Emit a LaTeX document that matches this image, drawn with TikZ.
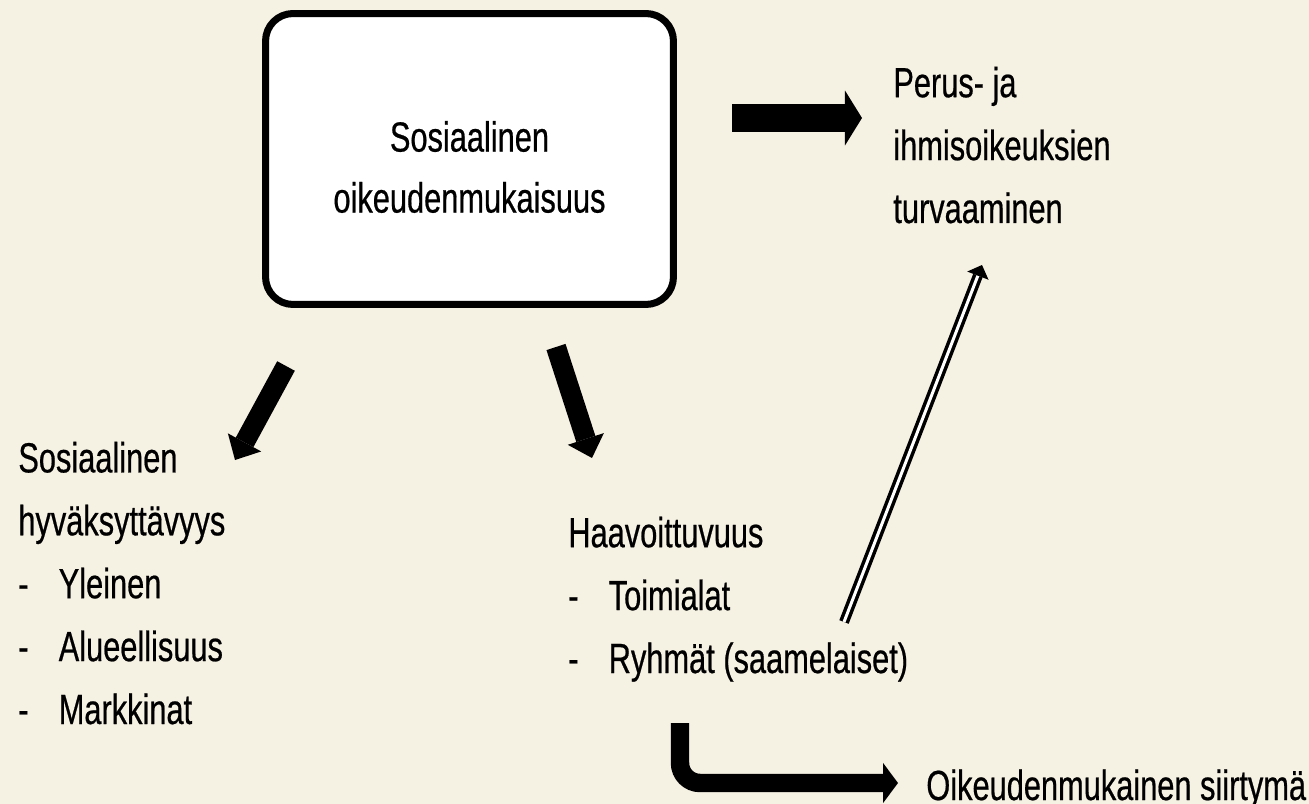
\documentclass[tikz,border=0pt]{standalone}
\usepackage{fontspec}
\setmainfont{Liberation Sans}[FakeStretch=0.73, FakeBold=0.5]
\usetikzlibrary{arrows.meta}
\definecolor{paper}{HTML}{F5F1E3}

\newcommand{\dashitem}[1]{\makebox[23pt][l]{-}#1}

\tikzset{
  txt/.style={anchor=base west, inner sep=0pt, align=left,
    font=\fontsize{24pt}{35.8pt}\selectfont},
  mainbox/.style={draw, fill=white, line width=4pt, rounded corners=0.55cm,
    minimum width=8.16cm, minimum height=5.82cm},
  boxtext/.style={inner sep=0pt, align=center,
    font=\fontsize{24pt}{34.7pt}\selectfont},
  widearrow/.style={line width=15.9pt, -{Triangle[length=9.7pt, width=31.3pt, line width=0pt]}},
  fatarrow/.style={line width=11.4pt, -{Triangle[length=11.4pt, width=21.6pt, line width=0pt]}},
  bentarrow/.style={line width=10.5pt, rounded corners=0.4cm,
    -{Triangle[length=8.5pt, width=22.8pt, line width=0pt]}},
  hollowarrow/.style={line width=2pt, double=white, double distance=1.7pt,
    -{Triangle[length=6.5pt, width=13pt, line width=0pt]}},
}

\begin{document}
\begin{tikzpicture}[x=0.02cm, y=-0.02cm]
  \fill[paper] (0,0) rectangle (1309,804);
  \useasboundingbox (0,0) rectangle (1309,804);

  % central concept
  \node[mainbox] (justice) at (469.5,159) {};
  \node[boxtext] (justicetext) at (469.5,167) {Sosiaalinen\\oikeudenmukaisuus};

  % surrounding blocks (base = last line)
  \node[txt] (rights) at (893,223) {Perus- ja\\ihmisoikeuksien\\turvaaminen};
  \node[txt] (accept) at (18,724) {Sosiaalinen\\hyväksyttävyys\\
    \dashitem{Yleinen}\\\dashitem{Alueellisuus}\\\dashitem{Markkinat}};
  \node[txt] (vuln) at (568,673) {Haavoittuvuus\\
    \dashitem{Toimialat}\\\dashitem{Ryhmät (saamelaiset)}};
  \node[txt] (transition) at (926,800) {Oikeudenmukainen siirtymä};

  % arrow ends
  \coordinate (r1) at (732,118);
  \coordinate (r2) at (862,118);
  \coordinate (a1) at (286,366);
  \coordinate (a2) at (235,460);
  \coordinate (v1) at (556,347);
  \coordinate (v2) at (592,458);
  \coordinate (h1) at (844,622);
  \coordinate (h2) at (982,265);
  \coordinate (t1) at (680,723);
  \coordinate (t2) at (898,783);

  \draw[widearrow] (r1) -- (r2);
  \draw[fatarrow] (a1) -- (a2);
  \draw[fatarrow] (v1) -- (v2);
  \draw[hollowarrow] (h1) -- (h2);
  \draw[bentarrow] (t1) |- (t2);
\end{tikzpicture}
\end{document}
